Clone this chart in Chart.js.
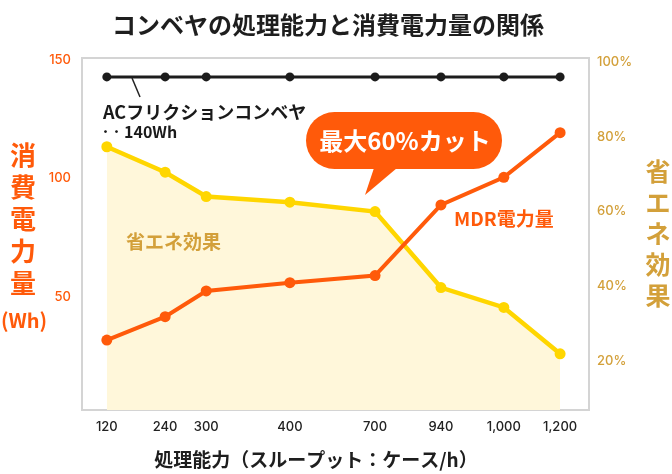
<!DOCTYPE html>
<html>
<head>
<meta charset="utf-8">
<script src="https://cdn.jsdelivr.net/npm/chart.js@4.4.1/dist/chart.umd.min.js"></script>
<style>
  html, body { margin: 0; padding: 0; background: #fff; }
  #wrap { width: 672px; height: 474px; }
</style>
</head>
<body>
<div id="wrap"><canvas id="powerChart" width="672" height="474"></canvas></div>
<script>
// throughput categories (cases/h) and where each one sits on the 0-100 x axis
var categories = ['120', '240', '300', '400', '700', '940', '1,000', '1,200'];
var xPlace = [4.9, 16.4, 24.5, 41, 57.8, 70.8, 83.2, 94.3];

// power consumption (Wh)
var acFriction = [143, 143, 143, 143, 143, 143, 143, 143];
var mdrPower = [31.6, 41.5, 52.4, 55.9, 58.9, 88.8, 100.5, 119.4];
// energy saving (%)
var savingRate = [77.3, 70.5, 64, 62.5, 60, 39.7, 34.4, 22];

var powerTicks = [50, 100, 150];
var rateTicks = [20, 40, 60, 80, 100];

var ORANGE = '#FF5A0A';
var GOLD = '#D3A03A';
var YELLOW = '#FFD600';
var JP = '"Noto Sans CJK JP", "Noto Sans", sans-serif';
var TICKFONT = { family: 'Inter, "Noto Sans", sans-serif', size: 13, weight: '500' };

function points(values){
  return values.map(function(v, i){ return { x: xPlace[i], y: v }; });
}

function vText(ctx, str, x, y0, step){
  for (var i = 0; i < str.length; i++) {
    ctx.fillText(str[i], x, y0 + i * step);
  }
}

var decorations = {
  id: 'decorations',
  beforeDatasetsDraw: function(chart){
    var ctx = chart.ctx, a = chart.chartArea;
    ctx.save();
    ctx.strokeStyle = '#D4D4D4';
    ctx.lineWidth = 2;
    ctx.strokeRect(a.left, a.top, a.right - a.left, a.bottom - a.top);
    ctx.restore();
  },
  afterDatasetsDraw: function(chart){
    var ctx = chart.ctx;
    ctx.save();
    ctx.textBaseline = 'middle';

    // title
    ctx.fillStyle = '#1e1e1e';
    ctx.textAlign = 'center';
    ctx.font = 'bold 24px ' + JP;
    ctx.fillText('コンベヤの処理能力と消費電力量の関係', 328, 25);

    // x axis title
    ctx.font = 'bold 19px ' + JP;
    ctx.fillText('処理能力（スループット：ケース/h）', 316, 460);

    // left axis title
    ctx.fillStyle = ORANGE;
    ctx.font = 'bold 26px ' + JP;
    vText(ctx, '消費電力量', 23, 155, 32);
    ctx.font = 'bold 20px ' + JP;
    ctx.fillText('(Wh)', 24, 320);

    // right axis title
    ctx.fillStyle = GOLD;
    ctx.font = 'bold 25px ' + JP;
    vText(ctx, '省エネ効果', 658, 171, 31);

    // AC friction label + leader
    ctx.strokeStyle = '#222';
    ctx.lineWidth = 1.5;
    ctx.beginPath();
    ctx.moveTo(132, 78);
    ctx.lineTo(140, 97);
    ctx.stroke();
    ctx.fillStyle = '#1a1a1a';
    ctx.textAlign = 'left';
    ctx.font = 'bold 18px ' + JP;
    ctx.fillText('ACフリクションコンベヤ', 103, 112);
    ctx.font = 'bold 11px ' + JP;
    ctx.fillText('・・', 100, 132);
    ctx.font = 'bold 16px ' + JP;
    ctx.fillText('140Wh', 124, 132);

    // in-plot labels
    ctx.fillStyle = ORANGE;
    ctx.font = 'bold 19px ' + JP;
    ctx.fillText('MDR電力量', 454, 219);
    ctx.fillStyle = GOLD;
    ctx.fillText('省エネ効果', 126, 242);

    // speech bubble
    var l = 306, t = 112, r = 502, b = 169, rad = (b - t) / 2;
    ctx.fillStyle = ORANGE;
    ctx.beginPath();
    ctx.moveTo(l + rad, t);
    ctx.lineTo(r - rad, t);
    ctx.arc(r - rad, t + rad, rad, -Math.PI / 2, Math.PI / 2);
    ctx.lineTo(l + rad, b);
    ctx.arc(l + rad, t + rad, rad, Math.PI / 2, Math.PI * 1.5);
    ctx.closePath();
    ctx.fill();
    ctx.beginPath();
    ctx.moveTo(374, b - 1);
    ctx.lineTo(397, b - 1);
    ctx.lineTo(365, 195);
    ctx.closePath();
    ctx.fill();
    ctx.fillStyle = '#fff';
    ctx.textAlign = 'center';
    ctx.font = 'bold 24px ' + JP;
    ctx.fillText('最大60%カット', 405, 141);

    ctx.restore();
  }
};

var ctx = document.getElementById('powerChart');
var powerChart = new Chart(ctx, {
  type: 'line',
  data: {
    datasets: [{
      label: 'ACフリクションコンベヤ',
      data: points(acFriction),
      yAxisID: 'y',
      borderColor: '#1c1c1c',
      backgroundColor: '#1c1c1c',
      borderWidth: 3,
      pointRadius: 4.5,
      pointBorderWidth: 0,
      order: 1
    }, {
      label: 'MDR電力量',
      data: points(mdrPower),
      yAxisID: 'y',
      borderColor: ORANGE,
      backgroundColor: ORANGE,
      borderWidth: 4,
      pointRadius: 5.5,
      pointBorderWidth: 0,
      order: 0
    }, {
      label: '省エネ効果',
      data: points(savingRate),
      yAxisID: 'y1',
      borderColor: YELLOW,
      pointBackgroundColor: YELLOW,
      backgroundColor: '#FFF7DA',
      fill: 'start',
      borderWidth: 4.5,
      pointRadius: 5.5,
      pointBorderWidth: 0,
      order: 2
    }]
  },
  options: {
    responsive: false,
    animation: false,
    devicePixelRatio: 1,
    layout: { padding: { top: 58, left: 0, right: 0, bottom: 0 } },
    plugins: {
      legend: { display: false },
      tooltip: { enabled: false }
    },
    scales: {
      x: {
        type: 'linear',
        min: 0,
        max: 100,
        grid: { display: false, drawTicks: false },
        border: { display: false },
        afterBuildTicks: function(s){ s.ticks = xPlace.map(function(v){ return { value: v }; }); },
        afterFit: function(s){ s.height = 64; },
        ticks: {
          padding: 9,
          color: '#222',
          font: TICKFONT,
          maxRotation: 0,
          autoSkip: false,
          callback: function(v, i){ return categories[i]; }
        }
      },
      y: {
        position: 'left',
        min: 2,
        max: 151,
        grid: { display: false, drawTicks: false },
        border: { display: false },
        afterBuildTicks: function(s){ s.ticks = powerTicks.map(function(v){ return { value: v }; }); },
        afterFit: function(s){ s.width = 82; },
        ticks: {
          padding: 11,
          color: ORANGE,
          font: TICKFONT
        }
      },
      y1: {
        position: 'right',
        min: 7,
        max: 101,
        grid: { display: false, drawTicks: false },
        border: { display: false },
        afterBuildTicks: function(s){ s.ticks = rateTicks.map(function(v){ return { value: v }; }); },
        afterFit: function(s){ s.width = 83; },
        ticks: {
          padding: 8,
          color: GOLD,
          font: TICKFONT,
          callback: function(v){ return v + '%'; }
        }
      }
    }
  },
  plugins: [decorations]
});
</script>
</body>
</html>
